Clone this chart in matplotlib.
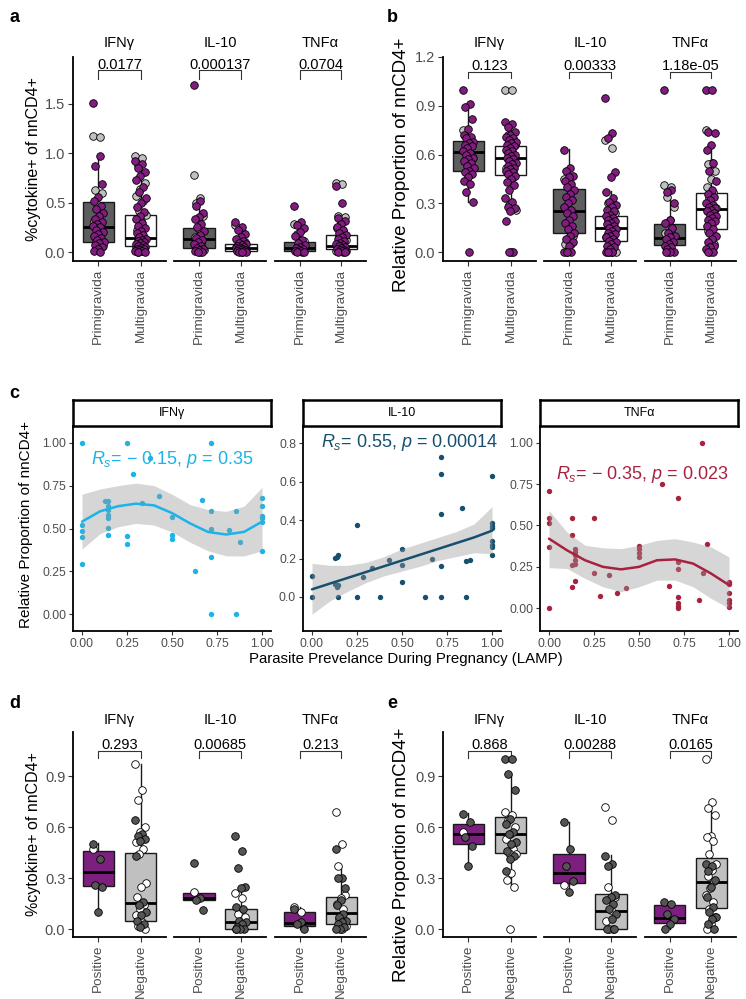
import numpy as np
import matplotlib
matplotlib.use("Agg")
import matplotlib.pyplot as plt

plt.rcParams['font.family'] = ['Liberation Sans', 'DejaVu Sans']
plt.rcParams['mathtext.fontset'] = 'custom'
plt.rcParams['mathtext.rm'] = 'Liberation Sans'
plt.rcParams['mathtext.it'] = 'Liberation Sans:italic'

# ---------------- data ----------------
facets = ["IFNγ", "IL-10", "TNFα"]
gravidity = ["Primigravida", "Multigravida"]
infection = ["Positive", "Negative"]

# panel a: %cytokine+ by gravidity  [facet][group]
a_q1 = [[0.10, 0.058], [0.042, 0.01], [0.013, 0.027]]
a_med = [[0.255, 0.146], [0.135, 0.045], [0.04, 0.065]]
a_q3 = [[0.506, 0.38], [0.247, 0.082], [0.10, 0.172]]
a_wlo = [[0.0, 0.0], [0.0, 0.0], [0.0, 0.0]]
a_whi = [[0.97, 0.85], [0.53, 0.19], [0.23, 0.37]]
a_pvals = ["0.0177", "0.000137", "0.0704"]
a_purple = [
    [[1.51, 0.97, 0.87, 0.69, 0.56, 0.52, 0.47, 0.44, 0.40, 0.37, 0.33, 0.30, 0.28, 0.26,
      0.25, 0.22, 0.20, 0.18, 0.16, 0.14, 0.12, 0.10, 0.09, 0.07, 0.05, 0.03, 0.01, 0.0],
     [0.92, 0.89, 0.85, 0.81, 0.77, 0.73, 0.66, 0.61, 0.55, 0.50, 0.46, 0.41, 0.36, 0.33,
      0.29, 0.26, 0.24, 0.21, 0.19, 0.17, 0.15, 0.13, 0.12, 0.11, 0.10, 0.09, 0.08, 0.07,
      0.06, 0.05, 0.04, 0.03, 0.03, 0.02, 0.01, 0.01, 0.0, 0.0]],
    [[1.69, 0.52, 0.47, 0.40, 0.35, 0.33, 0.28, 0.25, 0.21, 0.17, 0.14, 0.12, 0.10, 0.08,
      0.06, 0.04, 0.03, 0.02, 0.01, 0.0, 0.0],
     [0.30, 0.25, 0.22, 0.18, 0.15, 0.13, 0.11, 0.09, 0.08, 0.07, 0.06, 0.05, 0.04, 0.04,
      0.03, 0.03, 0.02, 0.02, 0.01, 0.01, 0.0, 0.0, 0.0]],
    [[0.47, 0.30, 0.27, 0.24, 0.20, 0.16, 0.12, 0.09, 0.07, 0.05, 0.04, 0.03, 0.02, 0.01,
      0.01, 0.0, 0.0],
     [0.67, 0.50, 0.34, 0.31, 0.28, 0.25, 0.22, 0.19, 0.17, 0.15, 0.13, 0.11, 0.09, 0.08,
      0.07, 0.06, 0.05, 0.04, 0.03, 0.02, 0.02, 0.01, 0.01, 0.0, 0.0]],
]
a_grey = [
    [[1.18, 1.17, 0.63, 0.60, 0.48, 0.31, 0.21, 0.11, 0.06],
     [0.97, 0.95, 0.88, 0.70, 0.64, 0.57, 0.52, 0.42, 0.38, 0.31, 0.22, 0.14, 0.09, 0.05, 0.02, 0.0]],
    [[0.78, 0.55, 0.50, 0.37, 0.23, 0.15, 0.09, 0.05, 0.02, 0.0],
     [0.27, 0.20, 0.12, 0.10, 0.06, 0.05, 0.03, 0.02, 0.01, 0.0]],
    [[0.28, 0.22, 0.18, 0.11, 0.06, 0.02, 0.0],
     [0.70, 0.69, 0.37, 0.35, 0.29, 0.24, 0.21, 0.16, 0.12, 0.10, 0.07, 0.04, 0.02, 0.01, 0.0]],
]

# panel b: relative proportion by gravidity
b_q1 = [[0.50, 0.474], [0.117, 0.068], [0.045, 0.142]]
b_med = [[0.615, 0.578], [0.252, 0.148], [0.088, 0.267]]
b_q3 = [[0.683, 0.654], [0.386, 0.22], [0.172, 0.361]]
b_wlo = [[0.307, 0.25], [0.0, 0.0], [0.0, 0.0]]
b_whi = [[0.91, 0.80], [0.634, 0.375], [0.33, 0.667]]
b_pvals = ["0.123", "0.00333", "1.18e-05"]
b_purple = [
    [[1.0, 0.91, 0.89, 0.82, 0.76, 0.72, 0.71, 0.70, 0.68, 0.67, 0.66, 0.65, 0.64, 0.62, 0.61,
      0.60, 0.58, 0.57, 0.56, 0.55, 0.53, 0.52, 0.50, 0.49, 0.48, 0.46, 0.44, 0.42, 0.37, 0.31, 0.0],
     [0.80, 0.79, 0.77, 0.74, 0.72, 0.71, 0.70, 0.69, 0.68, 0.67, 0.66, 0.65, 0.64, 0.63, 0.62,
      0.61, 0.60, 0.59, 0.58, 0.57, 0.56, 0.55, 0.54, 0.53, 0.52, 0.51, 0.50, 0.49, 0.48, 0.47,
      0.45, 0.43, 0.41, 0.38, 0.33, 0.31, 0.28, 0.27, 0.25, 0.19, 0.0, 0.0]],
    [[0.63, 0.52, 0.50, 0.47, 0.46, 0.44, 0.42, 0.40, 0.38, 0.36, 0.34, 0.32, 0.30, 0.28, 0.26,
      0.24, 0.22, 0.20, 0.18, 0.16, 0.14, 0.12, 0.10, 0.08, 0.06, 0.04, 0.0, 0.0, 0.0],
     [0.95, 0.73, 0.70, 0.49, 0.46, 0.37, 0.33, 0.31, 0.29, 0.28, 0.26, 0.25, 0.23, 0.22, 0.21,
      0.20, 0.19, 0.18, 0.17, 0.16, 0.15, 0.14, 0.13, 0.12, 0.11, 0.10, 0.09, 0.08, 0.07, 0.06,
      0.05, 0.04, 0.03, 0.02, 0.0, 0.0, 0.0]],
    [[1.0, 0.38, 0.37, 0.30, 0.20, 0.18, 0.15, 0.12, 0.10, 0.09, 0.08, 0.06, 0.05, 0.04, 0.03,
      0.02, 0.0, 0.0, 0.0],
     [1.0, 1.0, 0.74, 0.73, 0.66, 0.63, 0.55, 0.50, 0.44, 0.38, 0.36, 0.34, 0.32, 0.30, 0.29,
      0.28, 0.27, 0.26, 0.25, 0.24, 0.23, 0.22, 0.21, 0.20, 0.19, 0.18, 0.16, 0.14, 0.12, 0.10,
      0.08, 0.06, 0.04, 0.03, 0.02, 0.0, 0.0]],
]
b_grey = [
    [[0.75, 0.69, 0.63, 0.59, 0.51],
     [1.0, 1.0, 0.72, 0.66, 0.59, 0.52, 0.46, 0.29, 0.26, 0.0]],
    [[0.45, 0.33, 0.27, 0.10, 0.06, 0.05, 0.05, 0.0],
     [0.69, 0.64, 0.30, 0.24, 0.14, 0.09, 0.05, 0.0, 0.0, 0.0]],
    [[0.41, 0.40, 0.34, 0.28, 0.20, 0.12, 0.07, 0.0],
     [0.75, 0.55, 0.54, 0.50, 0.45, 0.40, 0.37, 0.33, 0.27, 0.17, 0.13, 0.05, 0.0]],
]

# panel c: relative proportion vs parasite prevalence
c_ifn_x = [0, 0, 0, 0, 0, 0.25, 0.714, 0.375, 0.286, 0.125, 0.143, 0.143, 0.143, 0.143, 0.143,
           0.143, 0.143, 0.25, 0.25, 0.333, 0.43, 0.5, 0.5, 0.5, 0.625, 0.667, 0.714, 0.714,
           0.714, 0.714, 0.818, 0.857, 0.875, 0.857, 1, 1, 1, 1, 1, 1]
c_ifn_y = [1.00, 0.52, 0.485, 0.452, 0.29, 1.00, 1.00, 0.91, 0.82, 0.66, 0.66, 0.63, 0.61, 0.58,
           0.56, 0.505, 0.46, 0.455, 0.41, 0.65, 0.69, 0.57, 0.46, 0.44, 0.25, 0.667, 0.605, 0.50,
           0.335, 0.0, 0.49, 0.605, 0.42, 0.0, 0.68, 0.63, 0.575, 0.56, 0.54, 0.37]
c_il10_x = [0, 0, 0.125, 0.14, 0.143, 0.125, 0.14, 0.143, 0.143, 0.25, 0.25, 0.286, 0.333, 0.375,
            0.43, 0.5, 0.5, 0.5, 0.625, 0.667, 0.714, 0.714, 0.714, 0.714, 0.714, 0.833, 0.857,
            0.875, 0.857, 1, 1, 1, 1, 1, 1, 1, 1]
c_il10_y = [0.11, 0.0, 0.205, 0.21, 0.22, 0.07, 0.05, 0.06, 0.0, 0.375, 0.0, 0.105, 0.15, 0.0,
            0.195, 0.25, 0.165, 0.08, 0.0, 0.2, 0.727, 0.64, 0.43, 0.16, 0.0, 0.465, 0.185, 0.195,
            0.0, 0.63, 0.385, 0.37, 0.36, 0.29, 0.27, 0.26, 0.22]
c_tnf_x = [0, 0, 0, 0, 0, 0.125, 0.125, 0.143, 0.143, 0.143, 0.143, 0.143, 0.125, 0.143, 0.125,
           0.25, 0.25, 0.286, 0.333, 0.375, 0.429, 0.5, 0.5, 0.5, 0.5, 0.625, 0.667, 0.714,
           0.714, 0.714, 0.714, 0.714, 0.714, 0.714, 0.85, 0.875, 0.857, 0.833, 1, 1, 1, 1, 1, 1]
c_tnf_y = [0.71, 0.545, 0.515, 0.37, 0.0, 0.543, 0.44, 0.36, 0.34, 0.32, 0.29, 0.27, 0.26, 0.165,
           0.13, 0.545, 0.21, 0.075, 0.2, 0.09, 0.12, 0.375, 0.355, 0.335, 0.31, 0.75, 0.135,
           0.667, 0.28, 0.24, 0.07, 0.03, 0.015, 0.0, 1.0, 0.385, 0.21, 0.05, 0.16, 0.145, 0.09,
           0.05, 0.03, 0.01]
# loess fits at these prevalence values
c_fit_x = [0.0, 0.1, 0.2, 0.3, 0.4, 0.5, 0.6, 0.7, 0.8, 0.9, 1.0]
c_ifn_fit = [0.54, 0.60, 0.63, 0.645, 0.635, 0.59, 0.53, 0.48, 0.465, 0.48, 0.54]
c_ifn_hi = [0.70, 0.73, 0.75, 0.765, 0.75, 0.70, 0.64, 0.61, 0.60, 0.63, 0.74]
c_ifn_lo = [0.38, 0.47, 0.51, 0.53, 0.52, 0.48, 0.42, 0.37, 0.34, 0.34, 0.37]
c_il10_fit = [0.04, 0.07, 0.10, 0.13, 0.16, 0.19, 0.22, 0.25, 0.28, 0.31, 0.345]
c_il10_hi = [0.175, 0.165, 0.165, 0.18, 0.21, 0.25, 0.28, 0.31, 0.34, 0.38, 0.47]
c_il10_lo = [-0.09, -0.02, 0.03, 0.075, 0.11, 0.135, 0.16, 0.19, 0.21, 0.23, 0.225]
c_tnf_fit = [0.42, 0.35, 0.29, 0.25, 0.235, 0.25, 0.29, 0.295, 0.27, 0.21, 0.14]
c_tnf_hi = [0.59, 0.46, 0.38, 0.365, 0.36, 0.38, 0.41, 0.42, 0.40, 0.37, 0.31]
c_tnf_lo = [0.245, 0.24, 0.18, 0.13, 0.10, 0.13, 0.17, 0.17, 0.13, 0.06, 0.0]
c_labels = ["$R_{s}$= \u2212 0.15, $p$ = 0.35",
            "$R_{s}$= 0.55, $p$ = 0.00014",
            "$R_{s}$= \u2212 0.35, $p$ = 0.023"]

# panel d: %cytokine+ by infection status
d_q1 = [[0.255, 0.049], [0.171, 0.0], [0.018, 0.031]]
d_med = [[0.337, 0.151], [0.18, 0.043], [0.037, 0.096]]
d_q3 = [[0.459, 0.449], [0.212, 0.12], [0.102, 0.188]]
d_wlo = [[0.102, 0.0], [0.171, 0.0], [0.0, 0.0]]
d_whi = [[0.504, 0.969], [0.212, 0.249], [0.13, 0.373]]
d_pvals = ["0.293", "0.00685", "0.213"]
d_dark = [
    [[0.50, 0.41, 0.26, 0.25, 0.10],
     [0.64, 0.56, 0.55, 0.53, 0.52, 0.43, 0.16, 0.14, 0.10, 0.08, 0.05, 0.03, 0.01]],
    [[0.39, 0.18, 0.17, 0.11],
     [0.55, 0.46, 0.36, 0.25, 0.24, 0.13, 0.12, 0.05, 0.04, 0.03, 0.01, 0.0, 0.0, 0.0]],
    [[0.12, 0.04, 0.03, 0.0],
     [0.47, 0.30, 0.30, 0.24, 0.17, 0.14, 0.09, 0.07, 0.05, 0.04, 0.03, 0.01, 0.0, 0.0]],
]
d_white = [
    [[0.47],
     [0.97, 0.82, 0.76, 0.60, 0.57, 0.51, 0.47, 0.44, 0.27, 0.25, 0.19, 0.14, 0.12, 0.08, 0.04, 0.02, 0.0]],
    [[0.22],
     [0.21, 0.18, 0.09, 0.07, 0.02, 0.0]],
    [[0.13, 0.10],
     [0.69, 0.50, 0.37, 0.20, 0.18, 0.15, 0.12, 0.06, 0.02, 0.0]],
]

# panel e: relative proportion by infection status
e_q1 = [[0.50, 0.449], [0.273, 0.0], [0.033, 0.125]]
e_med = [[0.559, 0.561], [0.331, 0.108], [0.067, 0.276]]
e_q3 = [[0.618, 0.659], [0.441, 0.206], [0.139, 0.416]]
e_wlo = [[0.371, 0.253], [0.222, 0.0], [0.0, 0.0]]
e_whi = [[0.684, 0.91], [0.631, 0.433], [0.165, 0.753]]
e_pvals = ["0.868", "0.00288", "0.0165"]
e_dark = [
    [[0.68, 0.63, 0.54, 0.49, 0.37],
     [1.0, 1.0, 0.91, 0.82, 0.65, 0.62, 0.57, 0.56, 0.51, 0.50, 0.46, 0.43, 0.41, 0.34]],
    [[0.63, 0.47, 0.37, 0.28, 0.22],
     [0.43, 0.38, 0.37, 0.20, 0.19, 0.17, 0.15, 0.12, 0.09, 0.06, 0.0, 0.0]],
    [[0.16, 0.15, 0.09, 0.06, 0.03, 0.0],
     [0.38, 0.37, 0.34, 0.29, 0.25, 0.19, 0.13, 0.10, 0.07, 0.06, 0.03, 0.0]],
]
e_white = [
    [[0.57],
     [0.69, 0.67, 0.64, 0.60, 0.56, 0.53, 0.47, 0.45, 0.44, 0.33, 0.29, 0.25, 0.0]],
    [[0.26],
     [0.72, 0.64, 0.25, 0.19, 0.11, 0.05, 0.0, 0.0]],
    [[],
     [1.0, 0.75, 0.71, 0.67, 0.55, 0.54, 0.52, 0.44, 0.38, 0.35, 0.31, 0.28, 0.24, 0.20, 0.16,
      0.12, 0.07, 0.03, 0.0]],
]

# ---------------- drawing ----------------
W, H = 746, 999
fig = plt.figure(figsize=(W / 100, H / 100), dpi=100)

TICK_COL = '#4d4d4d'
PURPLE = '#821c80'


def px_axes(l, t, r, b):
    return fig.add_axes([l / W, 1 - b / H, (r - l) / W, (b - t) / H])


def fig_text(x, y, s, **kw):
    fig.text(x / W, 1 - y / H, s, **kw)


def jitter(n, width):
    return ((np.arange(n) * 0.618034) % 1 - 0.5) * 2 * width


def box_panel(cols, top, bottom, ylim, yticks, ytl, q1, med, q3, wlo, whi, fills,
              pts_under, pts_over, col_under, col_over, pvals, bracket, xlabels, title_y):
    for k, (l, r) in enumerate(cols):
        ax = px_axes(l, top, r, bottom)
        stats = [dict(med=med[k][j], q1=q1[k][j], q3=q3[k][j],
                      whislo=wlo[k][j], whishi=whi[k][j]) for j in range(2)]
        bp = ax.bxp(stats, positions=[1, 2], widths=0.75, showfliers=False, showcaps=False,
                    patch_artist=True,
                    boxprops=dict(linewidth=1.0, edgecolor='#1a1a1a'),
                    medianprops=dict(color='black', linewidth=2.0, solid_capstyle='butt'),
                    whiskerprops=dict(color='#1a1a1a', linewidth=1.0))
        for patch, fc in zip(bp['boxes'], fills):
            patch.set_facecolor(fc)
        for j in range(2):
            for vals, c in ((pts_under[k][j], col_under), (pts_over[k][j], col_over)):
                if len(vals) == 0:
                    continue
                xs = j + 1 + jitter(len(vals), 0.13)
                ax.scatter(xs, vals, s=30, c=c, edgecolors='black', linewidths=0.6,
                           zorder=3, clip_on=False)
        y_top, y_leg = bracket
        ax.plot([1, 1, 2, 2], [y_leg, y_top, y_top, y_leg], color='#333333', lw=0.8,
                clip_on=False)
        ax.annotate(pvals[k], xy=(1.5, y_top), xytext=(0, 1.2), textcoords='offset points',
                    ha='center', va='baseline', fontsize=10.5, color='black')
        fig_text((l + r) / 2, title_y, facets[k], ha='center', va='center', fontsize=10.5)

        ax.set_xlim(0.4, 2.6)
        ax.set_ylim(*ylim)
        ax.set_xticks([1, 2])
        ax.set_xticklabels(xlabels, rotation=90, fontsize=9.7, color=TICK_COL)
        for s in ('top', 'right'):
            ax.spines[s].set_visible(False)
        ax.spines['bottom'].set_linewidth(1.3)
        if k == 0:
            ax.spines['left'].set_linewidth(1.3)
            ax.set_yticks(yticks)
            ax.set_yticklabels(ytl, fontsize=10.5, color=TICK_COL)
        else:
            ax.spines['left'].set_visible(False)
            ax.set_yticks([])
        ax.tick_params(length=3.5, width=0.8, color='#333333', pad=2)
        ax.patch.set_alpha(0)


def corr_panel(l, r, xs, ys, fit, lo, hi, color, ylim, yticks, ytl, label, label_xy, strip):
    ax = px_axes(l, 426, r, 631)
    ax.scatter(xs, ys, s=15, color=color, linewidths=0, zorder=2)
    ax.fill_between(c_fit_x, lo, hi, color='#999999', alpha=0.4, linewidth=0, zorder=3)
    ax.plot(c_fit_x, fit, color=color, lw=1.8, zorder=4, solid_capstyle='round')
    ax.text(label_xy[0], label_xy[1], label, color=color, fontsize=13, ha='left',
            va='center', zorder=5)
    ax.set_xlim(-0.05, 1.05)
    ax.set_ylim(*ylim)
    ax.set_xticks([0, 0.25, 0.5, 0.75, 1.0])
    ax.set_xticklabels(["0.00", "0.25", "0.50", "0.75", "1.00"], fontsize=8.8, color=TICK_COL)
    ax.set_yticks(yticks)
    ax.set_yticklabels(ytl, fontsize=8.8, color=TICK_COL)
    for s in ('top', 'right'):
        ax.spines[s].set_visible(False)
    for s in ('left', 'bottom'):
        ax.spines[s].set_linewidth(1.3)
    ax.tick_params(length=3, width=0.8, color='#333333', pad=2)
    sax = px_axes(l, 400, r, 426)
    sax.set_xticks([])
    sax.set_yticks([])
    for s in sax.spines.values():
        s.set_linewidth(1.8)
    sax.text(0.5, 0.5, strip, ha='center', va='center', fontsize=9, transform=sax.transAxes)


left_cols = [(73, 166), (174, 266), (275, 366)]
right_cols = [(443, 536), (544, 636), (645, 736)]

# panel a
box_panel(left_cols, 57, 261, (-0.091, 1.976), [0, 0.5, 1.0, 1.5], ["0.0", "0.5", "1.0", "1.5"],
          a_q1, a_med, a_q3, a_wlo, a_whi, ['#5d5d5f', 'white'],
          a_grey, a_purple, '#c0c0c0', PURPLE, a_pvals, (1.84, 1.75), gravidity, 43)
fig_text(34, 159, "%cytokine+ of nnCD4+", rotation=90, ha='center', va='center', fontsize=11.5)
fig_text(15, 17, "a", ha='center', va='center', fontsize=13, fontweight='bold')

# panel b
box_panel(right_cols, 57, 261, (-0.055, 1.2), [0, 0.3, 0.6, 0.9, 1.2],
          ["0.0", "0.3", "0.6", "0.9", "1.2"],
          b_q1, b_med, b_q3, b_wlo, b_whi, ['#5d5d5f', 'white'],
          b_grey, b_purple, '#c0c0c0', PURPLE, b_pvals, (1.108, 1.07), gravidity, 43)
fig_text(402, 165, "Relative Proportion of nnCD4+", rotation=90, ha='center', va='center',
         fontsize=13.5)
fig_text(392, 17, "b", ha='center', va='center', fontsize=13, fontweight='bold')

# panel c
corr_panel(73, 271, c_ifn_x, c_ifn_y, c_ifn_fit, c_ifn_lo, c_ifn_hi, '#1ab4e8',
           (-0.098, 1.098), [0, 0.25, 0.5, 0.75, 1.0], ["0.00", "0.25", "0.50", "0.75", "1.00"],
           c_labels[0], (0.05, 0.90), facets[0])
corr_panel(303, 501, c_il10_x, c_il10_y, c_il10_fit, c_il10_lo, c_il10_hi, '#17506e',
           (-0.177, 0.89), [0, 0.2, 0.4, 0.6, 0.8], ["0.0", "0.2", "0.4", "0.6", "0.8"],
           c_labels[1], (0.05, 0.805), facets[1])
corr_panel(540, 738, c_tnf_x, c_tnf_y, c_tnf_fit, c_tnf_lo, c_tnf_hi, '#a8223f',
           (-0.137, 1.10), [0, 0.25, 0.5, 0.75, 1.0], ["0.00", "0.25", "0.50", "0.75", "1.00"],
           c_labels[2], (0.037, 0.806), facets[2])
fig_text(26, 524, "Relative Proportion of nnCD4+", rotation=90, ha='center', va='center',
         fontsize=11)
fig_text(406, 659, "Parasite Prevelance During Pregnancy (LAMP)", ha='center', va='center',
         fontsize=10.8)
fig_text(14, 393, "c", ha='center', va='center', fontsize=13, fontweight='bold')

# panel d
box_panel(left_cols, 732, 937, (-0.047, 1.16), [0, 0.3, 0.6, 0.9], ["0.0", "0.3", "0.6", "0.9"],
          d_q1, d_med, d_q3, d_wlo, d_whi, ['#7d1f7f', '#c0c0c0'],
          d_white, d_dark, 'white', '#555555', d_pvals, (1.05, 1.008), infection, 720)
fig_text(34, 834, "%cytokine+ of nnCD4+", rotation=90, ha='center', va='center', fontsize=11.5)
fig_text(15, 703, "d", ha='center', va='center', fontsize=13, fontweight='bold')

# panel e
box_panel(right_cols, 732, 937, (-0.047, 1.16), [0, 0.3, 0.6, 0.9], ["0.0", "0.3", "0.6", "0.9"],
          e_q1, e_med, e_q3, e_wlo, e_whi, ['#7d1f7f', '#c0c0c0'],
          e_white, e_dark, 'white', '#555555', e_pvals, (1.05, 1.008), infection, 720)
fig_text(402, 855, "Relative Proportion of nnCD4+", rotation=90, ha='center', va='center',
         fontsize=13.5)
fig_text(392, 703, "e", ha='center', va='center', fontsize=13, fontweight='bold')

fig.savefig("out.png", dpi=100)
